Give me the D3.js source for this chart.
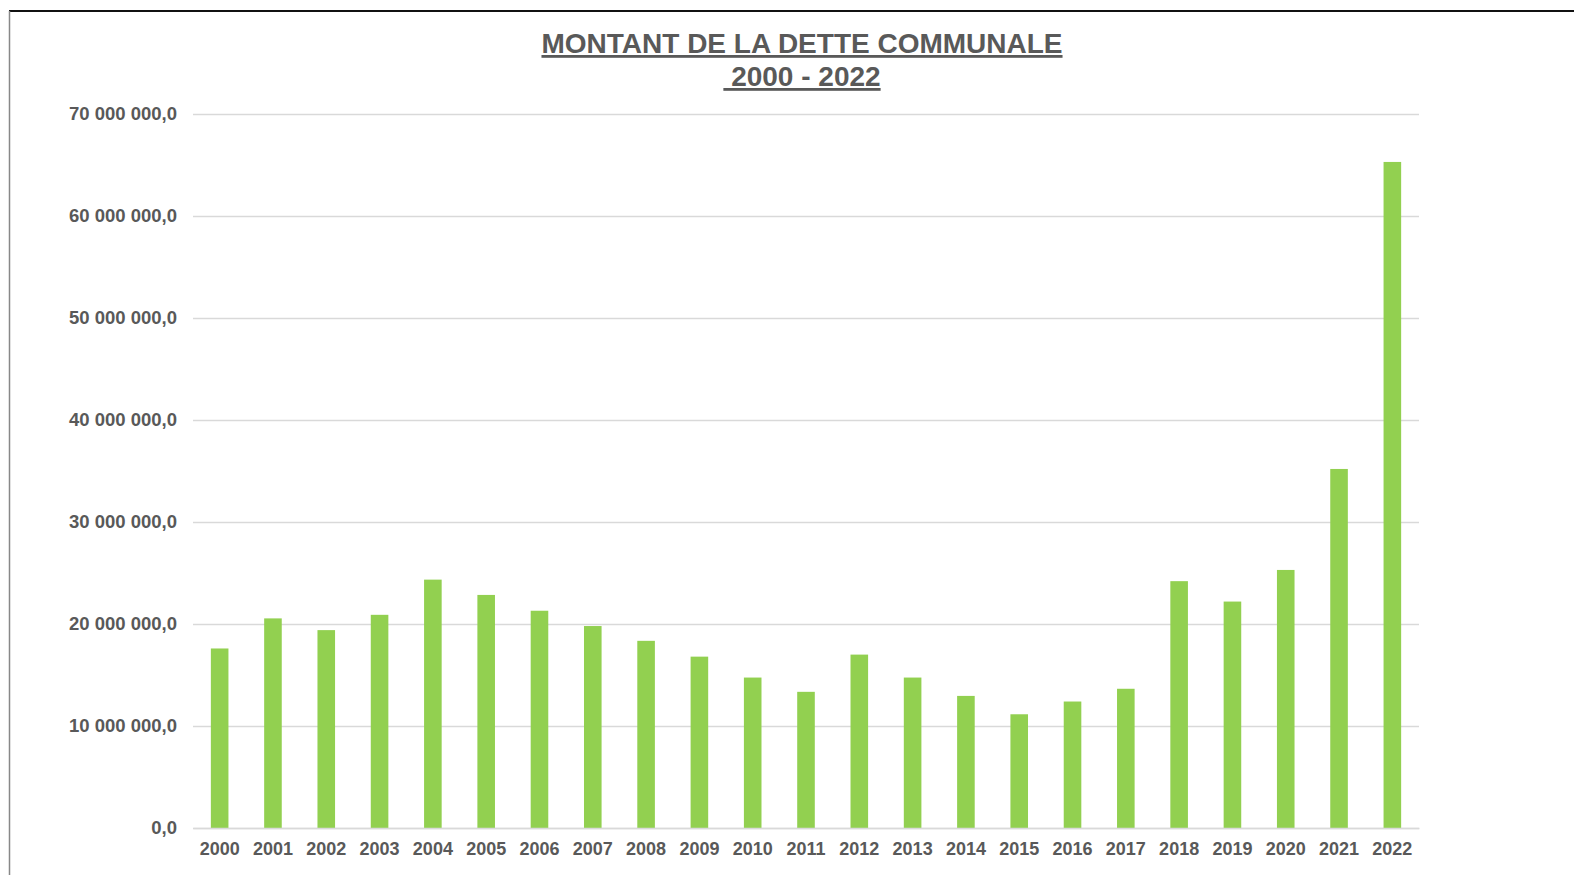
<!DOCTYPE html>
<html>
<head>
<meta charset="utf-8">
<script src="https://cdn.jsdelivr.net/npm/d3@7"></script>
<style>
  body { margin: 0; background: #fff; }
  svg { display: block; }
</style>
</head>
<body>
<div id="wrapper"></div>
<script>
// données (euros)
const years = ["2000", "2001", "2002", "2003", "2004", "2005", "2006", "2007", "2008", "2009", "2010", "2011",
    "2012", "2013", "2014", "2015", "2016", "2017", "2018", "2019", "2020", "2021", "2022"];
const dette = [17600000, 20550000, 19400000, 20900000, 24350000, 22850000, 21300000, 19800000, 18350000, 16800000,
    14750000, 13350000, 17000000, 14750000, 12950000, 11150000, 12400000, 13650000, 24200000, 22200000,
    25300000, 35200000, 65300000];
const yTicks = [0, 10000000, 20000000, 30000000, 40000000, 50000000, 60000000, 70000000];
const titleLines = ["MONTANT DE LA DETTE COMMUNALE", " 2000 - 2022"];

function buildPlot() {
    const dimension = {
        width: 1574,
        height: 875,
        margin: { top: 114, left: 193, bottom: 47, right: 155 }
    };
    dimension.boundedWidth = dimension.width - dimension.margin.left - dimension.margin.right;
    dimension.boundedHeight = dimension.height - dimension.margin.top - dimension.margin.bottom;

    const svg = d3.select("#wrapper").append("svg")
        .attr("width", dimension.width)
        .attr("height", dimension.height);

    // cadre
    svg.append("line")
        .attr("x1", 9).attr("x2", dimension.width).attr("y1", 11).attr("y2", 11)
        .attr("stroke", "#111").attr("stroke-width", 2);
    svg.append("line")
        .attr("x1", 9.5).attr("x2", 9.5).attr("y1", 11).attr("y2", dimension.height)
        .attr("stroke", "#888").attr("stroke-width", 1.5);

    const bounded = svg.append("g")
        .attr("transform", `translate(${dimension.margin.left},${dimension.margin.top})`);

    const xScaler = d3.scaleBand()
        .domain(years)
        .range([0, dimension.boundedWidth])
        .paddingInner(0.67)
        .paddingOuter(0.335);

    const yScaler = d3.scaleLinear()
        .domain([0, 70000000])
        .range([dimension.boundedHeight, 0]);

    const fr = d3.formatLocale({ decimal: ",", thousands: " ", grouping: [3], currency: ["", " €"] });
    const fmt = fr.format(",.1f");

    // grille
    const yAxis = bounded.append("g")
        .call(d3.axisLeft(yScaler)
            .tickValues(yTicks)
            .tickSize(-dimension.boundedWidth)
            .tickPadding(16)
            .tickFormat(fmt));
    yAxis.select(".domain").remove();
    yAxis.selectAll(".tick line").attr("stroke", "#d9d9d9").attr("stroke-width", 1.5);
    yAxis.selectAll(".tick text")
        .attr("fill", "#595959")
        .style("font-family", "Arial, 'Liberation Sans', sans-serif")
        .style("font-size", "18.5px")
        .style("font-weight", "bold");

    // barres
    bounded.selectAll("rect.bar")
        .data(dette)
        .join("rect")
        .attr("class", "bar")
        .attr("x", (d, i) => xScaler(years[i]))
        .attr("width", xScaler.bandwidth())
        .attr("y", d => yScaler(d))
        .attr("height", d => dimension.boundedHeight - yScaler(d))
        .attr("fill", "#92d050");

    const xAxis = bounded.append("g")
        .attr("transform", `translate(0,${dimension.boundedHeight})`)
        .call(d3.axisBottom(xScaler).tickSize(0).tickPadding(14));
    xAxis.select(".domain").attr("stroke", "#d9d9d9").attr("stroke-width", 1.5);
    xAxis.selectAll(".tick text")
        .attr("fill", "#595959")
        .style("font-family", "Arial, 'Liberation Sans', sans-serif")
        .style("font-size", "18px")
        .style("font-weight", "bold");

    // titre
    svg.append("g")
        .selectAll("text")
        .data(titleLines)
        .join("text")
        .attr("x", 802)
        .attr("y", (d, i) => 53 + i * 33)
        .attr("text-anchor", "middle")
        .attr("fill", "#595959")
        .style("font-family", "Arial, 'Liberation Sans', sans-serif")
        .style("font-size", "28px")
        .style("font-weight", "bold")
        .style("text-decoration", "underline")
        .style("white-space", "pre")
        .text(d => d);
}

buildPlot();
</script>
</body>
</html>
